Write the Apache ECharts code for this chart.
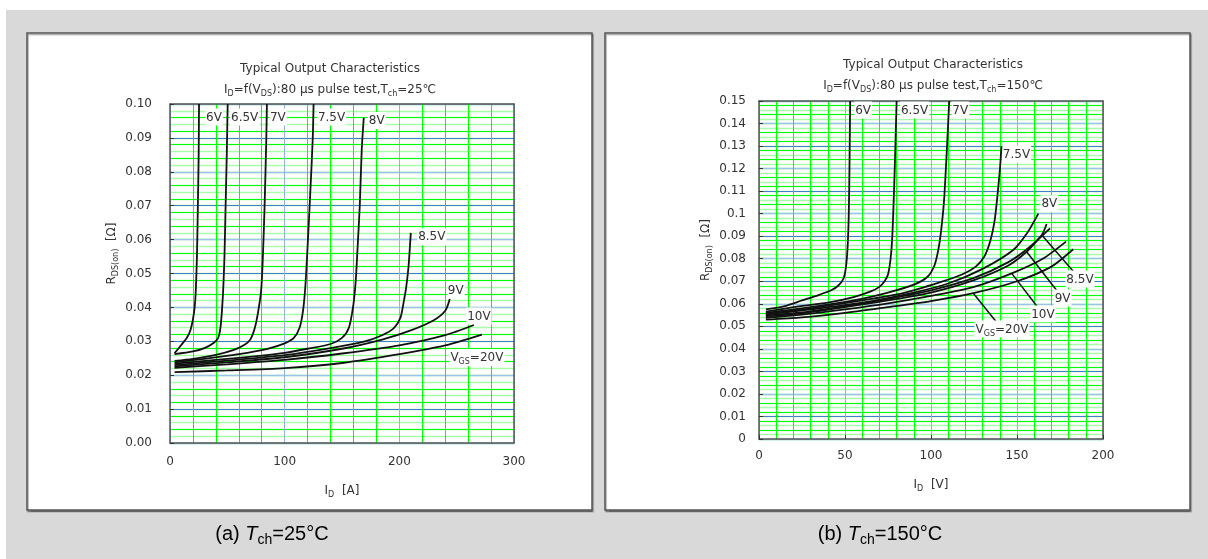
<!DOCTYPE html>
<html><head><meta charset="utf-8">
<script src="https://cdn.jsdelivr.net/npm/echarts@6/dist/echarts.min.js"></script>
<style>html,body{margin:0;padding:0;background:#fff}#c{width:1208px;height:559px}</style>
</head><body><div id="c"></div>
<script>
// ---------------- DATA ----------------
// Panel (a): Tch = 25 °C   points are [I_D (A), R_DS(on) (Ω)]
const curveNames = ['6V','6.5V','7V','7.5V','8V','8.5V','9V','10V','20V'];
const a_6V   = [[4,0.0265],[10,0.0290],[15,0.0312],[18,0.0335],[20,0.0365],[21.5,0.040],[22.5,0.045],[23.5,0.055],[24.3,0.070],[25,0.085],[25.3,0.100]];
const a_6p5V = [[4,0.0262],[20,0.0270],[30,0.0280],[38,0.0295],[42,0.0310],[44,0.0340],[45.5,0.040],[46.5,0.046],[47.5,0.055],[48.5,0.070],[49.5,0.085],[50.3,0.100]];
const a_7V   = [[4,0.0242],[20,0.0248],[40,0.0260],[55,0.0274],[65,0.0290],[70,0.0305],[74,0.034],[77,0.039],[79.5,0.045],[81,0.055],[82.5,0.070],[84,0.090],[84.5,0.100]];
const a_7p5V = [[4,0.0238],[30,0.0248],[60,0.0262],[85,0.0278],[100,0.0294],[108,0.0310],[113,0.034],[116,0.039],[118,0.046],[120,0.058],[122.5,0.075],[124.5,0.090],[125.2,0.100]];
const a_8V   = [[4,0.0234],[40,0.0245],[80,0.0258],[100,0.0266],[120,0.0278],[140,0.0292],[150,0.0310],[156,0.034],[160,0.041],[162,0.048],[163.5,0.057],[165.5,0.070],[167.2,0.0864],[169,0.096]];
const a_8p5V = [[4,0.0230],[50,0.0243],[100,0.0259],[140,0.0280],[170,0.0300],[185,0.0318],[195,0.0338],[201,0.037],[204,0.042],[206,0.046],[208,0.052],[210,0.062]];
const a_9V   = [[4,0.0226],[50,0.0238],[100,0.0253],[150,0.0278],[185,0.0305],[210,0.0332],[230,0.0362],[240,0.039],[244,0.0425]];
const a_10V  = [[4,0.0222],[50,0.0232],[100,0.0245],[150,0.0264],[200,0.0288],[240,0.0318],[265,0.0348]];
const a_20V  = [[4,0.0209],[50,0.0214],[100,0.0221],[150,0.0236],[200,0.0262],[240,0.0288],[272,0.0320]];

// Panel (b): Tch = 150 °C
const b_6V   = [[4,0.0575],[15,0.0590],[25,0.0615],[35,0.0640],[42,0.0660],[46,0.0680],[49,0.0710],[50.5,0.076],[51.5,0.085],[52.2,0.100],[52.6,0.120],[53,0.150]];
const b_6p5V = [[4,0.0565],[20,0.0585],[40,0.0605],[55,0.0630],[65,0.0655],[70,0.0675],[73,0.0700],[75,0.073],[76.5,0.080],[77.5,0.090],[78.5,0.110],[79.3,0.130],[80,0.150]];
const b_7V   = [[4,0.0560],[30,0.0585],[55,0.0615],[75,0.0650],[90,0.0685],[98,0.0720],[102,0.077],[104,0.083],[105.5,0.090],[107.5,0.105],[109,0.125],[110.6,0.150]];
const b_7p5V = [[4,0.0555],[30,0.0580],[60,0.0615],[85,0.0650],[105,0.0695],[118,0.0730],[126,0.0765],[131,0.081],[134.5,0.088],[137,0.097],[138.5,0.107],[140,0.119],[141,0.130]];
const b_8V   = [[4,0.0553],[30,0.0575],[60,0.0605],[90,0.0650],[110,0.0690],[130,0.0755],[148,0.0840],[156,0.0915],[162.4,0.100]];
const b_8p5V = [[4,0.0548],[25,0.0562],[50,0.0590],[75,0.0622],[100,0.0660],[125,0.0715],[145,0.0785],[157,0.0850],[164.4,0.0905],[167.2,0.0954]];
const b_9V   = [[4,0.0545],[25,0.0558],[50,0.0585],[75,0.0615],[100,0.0650],[125,0.0705],[145,0.0770],[155.6,0.0831],[163,0.0890],[169.2,0.0935]];
const b_10V  = [[4,0.0538],[25,0.0552],[50,0.0575],[75,0.0602],[100,0.0635],[125,0.0675],[146.9,0.0735],[165,0.0800],[178.5,0.0876]];
const b_20V  = [[4,0.0530],[25,0.0540],[50,0.0560],[75,0.0585],[100,0.0612],[124.6,0.0647],[150,0.0700],[170,0.0765],[182.7,0.0842]];

// Tick labels
const xTickVals25 = [0,100,200,300];
const xTickLbl25  = ['0','100','200','300'];
const yTickVals25 = [0,0.01,0.02,0.03,0.04,0.05,0.06,0.07,0.08,0.09,0.10];
const yTickLbl25  = ['0.00','0.01','0.02','0.03','0.04','0.05','0.06','0.07','0.08','0.09','0.10'];
const xTickVals150 = [0,50,100,150,200];
const xTickLbl150  = ['0','50','100','150','200'];
const yTickVals150 = [0,0.01,0.02,0.03,0.04,0.05,0.06,0.07,0.08,0.09,0.10,0.11,0.12,0.13,0.14,0.15];
const yTickLbl150  = ['0','0.01','0.02','0.03','0.04','0.05','0.06','0.07','0.08','0.09','0.1','0.11','0.12','0.13','0.14','0.15'];

// ---------------- STYLE ----------------
const FONT = 'DejaVu Sans';
const TXT = '#333';
const GREEN = '#00ff00', LGREEN = '#a8ffa8', LBLUE = '#9dc3e6', DBLUE = '#3f80c8', VBLUE = '#93b3dc';
const AXC = '#555';
const richSmall = {
  n: {fontSize: 12, fontFamily: FONT, fontWeight: 'normal', color: TXT, lineHeight: 16},
  s: {fontSize: 8, fontFamily: FONT, fontWeight: 'normal', color: TXT, lineHeight: 10, verticalAlign: 'bottom'}
};
const richCap = {
  n: {fontSize: 20, fontFamily: 'Liberation Sans', fontWeight: 'normal', color: '#000', lineHeight: 26},
  i: {fontSize: 20, fontFamily: 'Liberation Sans', fontWeight: 'normal', fontStyle: 'italic', color: '#000', lineHeight: 26},
  s: {fontSize: 14, fontFamily: 'Liberation Sans', fontWeight: 'normal', color: '#000', lineHeight: 14, verticalAlign: 'bottom'}
};
function lbl(text){ return text === '20V' ? '{n|V}{s|GS}{n|=20V}' : '{n|' + text + '}'; }
function pick(vals, lbls){ return v => { for (let i=0;i<vals.length;i++){ if (Math.abs(v-vals[i])<1e-9) return lbls[i]; } return ''; }; }

const panels = [
  {
    grid: {left: 170, top: 104, width: 344, height: 339},
    xmin: 0, xmax: 300, xMinor: 20, xMajor: 100, ymin: 0, ymax: 0.10,
    xFmt: pick(xTickVals25, xTickLbl25), yFmt: pick(yTickVals25, yTickLbl25),
    xName: '{n|I}{s|D}{n|  [A]}', yName: '{n|R}{s|DS(on)}{n|  [Ω]}',
    xNameGap: 40, yNameGap: 50, yLabelMargin: 18, xLabelMargin: 13, xTicks: false,
    title: [330, 61, 82, '{n|I}{s|D}{n|=f(V}{s|DS}{n|):80 µs pulse test,T}{s|ch}{n|=25℃}'],
    curves: [a_6V, a_6p5V, a_7V, a_7p5V, a_8V, a_8p5V, a_9V, a_10V, a_20V],
    ann: [{offset:[15,13]},{offset:[17,13]},{offset:[11,13]},{offset:[18,13]},{offset:[13,3]},{offset:[21,4]},{offset:[6,-9]},{offset:[5,-9]},{offset:[-5,23]}]
  },
  {
    grid: {left: 759, top: 101, width: 344, height: 338},
    xmin: 0, xmax: 200, xMinor: 10, xMajor: 50, ymin: 0, ymax: 0.15,
    xFmt: pick(xTickVals150, xTickLbl150), yFmt: pick(yTickVals150, yTickLbl150),
    xName: '{n|I}{s|D}{n|  [V]}', yName: '{n|R}{s|DS(on)}{n|  [Ω]}',
    xNameGap: 38, yNameGap: 45, yLabelMargin: 13, xLabelMargin: 11, xTicks: true,
    title: [933, 57, 78, '{n|I}{s|D}{n|=f(V}{s|DS}{n|):80 µs pulse test,T}{s|ch}{n|=150℃}'],
    curves: [b_6V, b_6p5V, b_7V, b_7p5V, b_8V, b_8p5V, b_9V, b_10V, b_20V],
    ann: [{offset:[13,9]},{offset:[18,9]},{offset:[11,9]},{offset:[15,8]},{offset:[11,-10]},
          {leader:{from:8, to:[186.6,0.0710]}},{leader:{from:7, to:[176.5,0.0626]}},
          {leader:{from:6, to:[165.1,0.0555]}},{leader:{from:5, to:[141.3,0.0488]}}]
  }
];

const option = {
  animation: false,
  backgroundColor: '#fff',
  graphic: [
    {type:'rect', z:-100, shape:{x:6,y:10,width:1202,height:549}, style:{fill:'#d9d9d9'}},
    {type:'rect', z:-99, shape:{x:27,y:33,width:565,height:477}, style:{fill:'#fff', stroke:'#555', lineWidth:1.5, shadowColor:'rgba(0,0,0,0.35)', shadowOffsetX:1, shadowOffsetY:1.5, shadowBlur:1}},
    {type:'rect', z:-99, shape:{x:605,y:33,width:585,height:477}, style:{fill:'#fff', stroke:'#555', lineWidth:1.5, shadowColor:'rgba(0,0,0,0.35)', shadowOffsetX:1, shadowOffsetY:1.5, shadowBlur:1}}
  ],
  title: [], grid: [], xAxis: [], yAxis: [], series: []
};

option.title.push({text:'{n|(a) }{i|T}{s|ch}{n|=25°C}', left: 272, top: 521, textAlign:'center', padding:0, textStyle:{fontWeight:'normal', rich: richCap}});
option.title.push({text:'{n|(b) }{i|T}{s|ch}{n|=150°C}', left: 880, top: 521, textAlign:'center', padding:0, textStyle:{fontWeight:'normal', rich: richCap}});

// helper for plain grid-line axes (only split lines)
function lineAxis(gi, min, max, interval, pos, color, width){
  return {gridIndex: gi, type:'value', min, max, interval, position: pos,
    axisLine:{show:false, onZero:false}, axisTick:{show:false}, axisLabel:{show:false},
    splitLine:{show:true, lineStyle:{color, width}}};
}
function borderAxis(gi, min, max, pos){
  return {gridIndex: gi, type:'value', min, max, position: pos,
    axisLine:{show:true, onZero:false, lineStyle:{color: AXC, width: 1.5}}, axisTick:{show:false}, axisLabel:{show:false}, splitLine:{show:false}};
}

const X_PER = 3, Y_PER = 6;
panels.forEach((p, gi) => {
  option.title.push({text:'{n|Typical Output Characteristics}', left: p.title[0], top: p.title[1], textAlign:'center', padding:0, textStyle:{fontWeight:'normal', rich: richSmall}});
  option.title.push({text: p.title[3], left: p.title[0], top: p.title[2], textAlign:'center', padding:0, textStyle:{fontWeight:'normal', rich: richSmall}});
  option.grid.push(Object.assign({containLabel:false}, p.grid));
  const axLine = {show:true, onZero:false, lineStyle:{color: AXC, width: 1.5}};
  // x axes: [green minor lines, main (labels, blue major lines), top border]
  option.xAxis.push(lineAxis(gi, p.xmin, p.xmax, p.xMinor, 'bottom', GREEN, 1));
  option.xAxis.push({
    gridIndex: gi, type:'value', min:p.xmin, max:p.xmax, interval:p.xMajor, position:'bottom',
    axisLine: axLine, axisTick:{show:p.xTicks, inside:true, length:4, lineStyle:{color:'#333', width:1}},
    axisLabel:{margin:p.xLabelMargin, fontSize:12, fontFamily:FONT, color:TXT, formatter:p.xFmt},
    splitLine:{show:true, lineStyle:{color:VBLUE, width:1}},
    name:p.xName, nameLocation:'middle', nameGap:p.xNameGap, nameTextStyle:{rich: richSmall}
  });
  option.xAxis.push(borderAxis(gi, p.xmin, p.xmax, 'top'));
  // y axes: [pale green 0.002, bright green 0.004, main (labels, dark blue 0.01), light blue 0.02, ticks, right border]
  option.yAxis.push(lineAxis(gi, p.ymin, p.ymax, 0.002, 'left', LGREEN, 1.4));
  option.yAxis.push(lineAxis(gi, p.ymin, p.ymax, 0.004, 'left', GREEN, 1));
  option.yAxis.push({
    gridIndex: gi, type:'value', min:p.ymin, max:p.ymax, interval:0.01, position:'left',
    axisLine: axLine, axisTick:{show:false},
    axisLabel:{margin:p.yLabelMargin, fontSize:12, fontFamily:FONT, color:TXT, formatter:p.yFmt},
    splitLine:{show:true, lineStyle:{color:DBLUE, width:1.2}},
    name:p.yName, nameLocation:'middle', nameGap:p.yNameGap, nameTextStyle:{rich: richSmall, padding:[0,0,0,40]}
  });
  option.yAxis.push(lineAxis(gi, p.ymin, p.ymax, 0.02, 'left', LBLUE, 1.3));
  option.yAxis.push({
    gridIndex: gi, type:'value', min:p.ymin, max:p.ymax, interval:0.01, position:'left',
    axisLine:{show:false, onZero:false}, axisTick:{show:true, inside:true, length:4, lineStyle:{color:'#333', width:1}},
    axisLabel:{show:false}, splitLine:{show:false}
  });
  option.yAxis.push(borderAxis(gi, p.ymin, p.ymax, 'right'));

  p.curves.forEach((data, ci) => {
    const name = curveNames[ci];
    const ann = p.ann[ci];
    const s = {
      type:'line', name: name, data: data, xAxisIndex: gi*X_PER + 1, yAxisIndex: gi*Y_PER + 2,
      showSymbol:false, symbol:'none', smooth:0.25, silent:true, z: 5,
      lineStyle:{color:'#111', width:1.8}
    };
    const lab = {show:true, formatter: lbl(name), fontSize:12, fontFamily:FONT, color:TXT, backgroundColor:'#fff', padding:[1,1,0,1], rich: richSmall};
    if (ann.offset) {
      s.markPoint = {silent:true, animation:false, symbol:'circle', symbolSize:0, itemStyle:{color:'transparent'},
        data:[{coord: data[data.length-1], label: Object.assign({position:'inside', offset: ann.offset}, lab)}]};
    } else if (ann.leader) {
      s.markLine = {silent:true, animation:false, symbol:['none','none'],
        lineStyle:{color:'#111', width:1.5, type:'solid'},
        label: Object.assign({position:'end', distance:0, align:'center', verticalAlign:'middle'}, lab),
        data:[[{coord: data[ann.leader.from]}, {coord: ann.leader.to}]]};
    }
    option.series.push(s);
  });
});

const chart = echarts.init(document.getElementById('c'), null, {renderer:'canvas'});
chart.setOption(option);
</script>
</body></html>
